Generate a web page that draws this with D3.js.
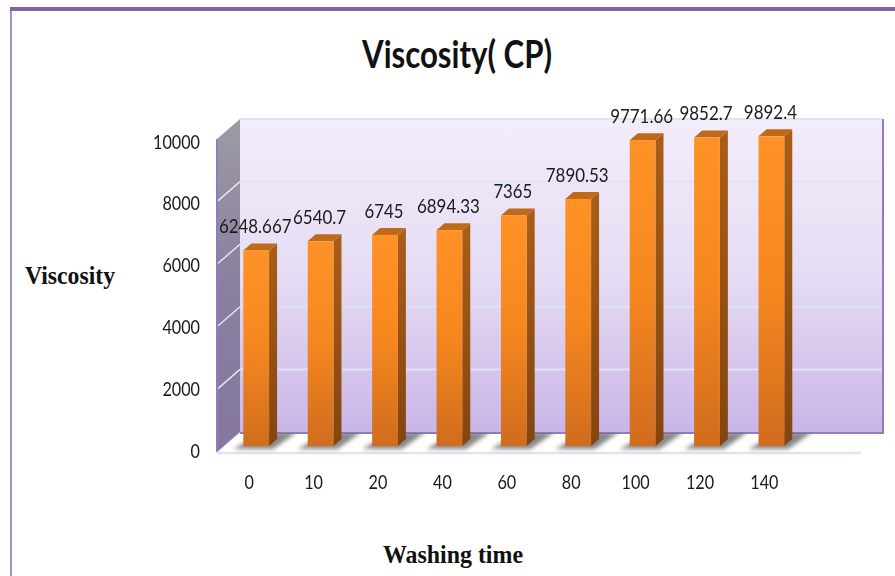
<!DOCTYPE html>
<html><head><meta charset="utf-8">
<script src="https://cdnjs.cloudflare.com/ajax/libs/d3/7.9.0/d3.min.js"></script>
<style>html,body{margin:0;padding:0;background:#fff;overflow:hidden}svg{display:block}</style>
</head><body><svg id="c" width="895" height="576"></svg>
<script>
const categories = ["0","10","20","40","60","80","100","120","140"];
const values = [6248.667,6540.7,6745,6894.33,7365,7890.53,9771.66,9852.7,9892.4];
const valueLabels = ["6248.667","6540.7","6745","6894.33","7365","7890.53","9771.66","9852.7","9892.4"];
const yTicks = [0,2000,4000,6000,8000,10000];

const svg = d3.select("#c");
const bodyFont = "Lato, Roboto, sans-serif";
const defs = svg.append("defs");
function grad(id, stops){
  const g = defs.append("linearGradient").attr("id",id).attr("x1",0).attr("y1",0).attr("x2",0).attr("y2",1);
  stops.forEach((c,i)=>g.append("stop").attr("offset",i/(stops.length-1)).attr("stop-color",c));
}
grad("wall",["#f3edfb","#e6dcf3","#c9b6e8"]);
grad("side",["#9d9aa3","#8a7fa0","#85779f"]);
grad("front",["#ff9226","#f5871f","#d06c1e"]);
grad("bside",["#aa5e18","#83450f"]);
defs.append("filter").attr("id","blur").attr("x","-30%").attr("y","-30%").attr("width","160%").attr("height","160%")
  .append("feGaussianBlur").attr("stdDeviation",2);
defs.append("filter").attr("id","soft").attr("x","-5%").attr("y","-20%").attr("width","110%").attr("height","140%")
  .append("feGaussianBlur").attr("stdDeviation",0.35);

// frame
svg.append("rect").attr("x",10).attr("y",7).attr("width",885).attr("height",4).attr("fill","#8265a5");
svg.append("rect").attr("x",10).attr("y",11).attr("width",2).attr("height",565).attr("fill","#a78fcb");

// scales
const y = d3.scaleLinear().domain([0,10000]).range([452,139]);
const yLabel = d3.scaleLinear().domain([0,10000]).range([451,142]);
const x = d3.scaleBand().domain(categories).range([224,803.6]).paddingInner(0.6).paddingOuter(0.3);
const dx = 23, dy = 20;          // wall depth
const bx = 8, by = 7, inset = 6; // bar depth and setback
const wallRight = 883, floorRight = 861, left = 217;

// floor shadows are clipped to the floor
defs.append("clipPath").attr("id","floor").append("rect")
  .attr("x",left).attr("y",y(0)-dy+1).attr("width",wallRight-left).attr("height",dy+1);

// walls
svg.append("rect").attr("x",left+dx).attr("y",y(10000)-dy).attr("width",wallRight-left-dx).attr("height",y(0)-y(10000))
  .attr("fill","url(#wall)");
svg.append("path").attr("d",`M${left},${y(0)}L${left},${y(10000)}L${left+dx},${y(10000)-dy}L${left+dx},${y(0)-dy}Z`).attr("fill","url(#side)");

// grid
const g = svg.append("g");
g.selectAll("line.back").data(yTicks.slice(1)).join("line")
  .attr("x1",left+dx).attr("x2",wallRight).attr("y1",d=>y(d)-dy).attr("y2",d=>y(d)-dy)
  .attr("stroke","#dbe5f3").attr("stroke-width",2);
g.selectAll("line.slant").data(yTicks.slice(1,-1)).join("line")
  .attr("x1",left).attr("x2",left+dx).attr("y1",d=>y(d)).attr("y2",d=>y(d)-dy)
  .attr("stroke","#e2e6f2").attr("stroke-width",1.5);

// wall edges
svg.append("path").attr("d",`M${left+dx},${y(0)-dy+1}H${wallRight}V${y(10000)-dy}`).attr("fill","none").attr("stroke","#9579bd").attr("stroke-width",2);
svg.append("line").attr("x1",left).attr("x2",left).attr("y1",y(10000)).attr("y2",y(0)).attr("stroke","#9579bd").attr("stroke-width",2);
svg.append("line").attr("x1",left).attr("x2",left+dx).attr("y1",y(0)).attr("y2",y(0)-dy).attr("stroke","#b9a6d8").attr("stroke-width",1);
// floor front edge
svg.append("line").attr("x1",left).attr("x2",floorRight).attr("y1",y(0)+1).attr("y2",y(0)+1).attr("stroke","#dce6f3").attr("stroke-width",2.5);

// bars
const bars = svg.append("g").selectAll("g").data(categories.map((c,i)=>({c,v:values[i],t:valueLabels[i]}))).join("g");
const bw = x.bandwidth();
const bl = d=>x(d.c), br = d=>x(d.c)+bw, bb = y(0)-inset, bt = d=>y(d.v)-inset;

bars.append("g").attr("clip-path","url(#floor)").append("path").attr("filter","url(#blur)").attr("fill","#6a6a6a").attr("opacity",0.8)
  .attr("d",d=>`M${bl(d)-10},${bb+3}L${br(d)+4},${bb+3}L${br(d)+28},${y(0)-dy}L${bl(d)+20},${y(0)-dy}Z`);
bars.append("path").attr("fill","url(#bside)")
  .attr("d",d=>`M${br(d)},${bb}L${br(d)},${bt(d)}L${br(d)+bx},${bt(d)-by}L${br(d)+bx},${bb-by}Z`);
bars.append("path").attr("fill","#bf6a19")
  .attr("d",d=>`M${bl(d)},${bt(d)}L${bl(d)+bx},${bt(d)-by}L${br(d)+bx},${bt(d)-by}L${br(d)},${bt(d)}Z`);
bars.append("rect").attr("x",bl).attr("y",bt).attr("width",bw).attr("height",d=>bb-bt(d)).attr("fill","url(#front)");

const labelLen = s => (s.replace(".","").length*9.7) + (s.includes(".")?4.7:0);
bars.append("text").attr("x",d=>bl(d)+bw/2-1).attr("y",d=>bt(d)-24).attr("dy","0.35em")
  .attr("text-anchor","middle").attr("font-family",bodyFont).attr("font-size",19).attr("fill","#1a1a1a")
  .attr("filter","url(#soft)")
  .text(d=>d.t).attr("textLength",d=>labelLen(d.t)).attr("lengthAdjust","spacingAndGlyphs");

// axes
const yAxis = svg.append("g").attr("transform","translate(208,0)")
  .call(d3.axisLeft(yLabel).tickValues(yTicks).tickFormat(d3.format("d")).tickSize(0).tickPadding(8));
yAxis.select(".domain").remove();
yAxis.selectAll("text").attr("font-family",bodyFont).attr("font-size",19).attr("fill","#1a1a1a").attr("filter","url(#soft)")
  .each(function(d){ d3.select(this).attr("textLength",String(d).length*9.4).attr("lengthAdjust","spacingAndGlyphs"); });

const xAxis = svg.append("g").attr("transform","translate(-7,475)")
  .call(d3.axisBottom(x).tickSize(0).tickPadding(0));
xAxis.select(".domain").remove();
xAxis.selectAll("text").attr("font-family",bodyFont).attr("font-size",19).attr("fill","#1a1a1a").attr("dy","0.71em").attr("filter","url(#soft)")
  .each(function(d){ d3.select(this).attr("textLength",d.length*9.4).attr("lengthAdjust","spacingAndGlyphs"); });

// titles
svg.append("text").attr("x",457).attr("y",68).attr("text-anchor","middle")
  .attr("font-family","Lato, Roboto, sans-serif").attr("font-weight",700).attr("font-size",38).attr("fill","#111")
  .attr("textLength",190).attr("lengthAdjust","spacingAndGlyphs").text("Viscosity( CP)");
svg.append("text").attr("x",70).attr("y",284).attr("text-anchor","middle")
  .attr("font-family","'Liberation Serif', serif").attr("font-weight",700).attr("font-size",26).attr("fill","#111")
  .attr("textLength",90).attr("lengthAdjust","spacingAndGlyphs").text("Viscosity");
svg.append("text").attr("x",453).attr("y",563).attr("text-anchor","middle")
  .attr("font-family","'Liberation Serif', serif").attr("font-weight",700).attr("font-size",26).attr("fill","#111")
  .attr("textLength",140).attr("lengthAdjust","spacingAndGlyphs").text("Washing time");
</script></body></html>
